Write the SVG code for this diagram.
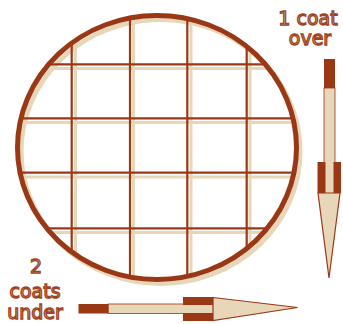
<svg xmlns="http://www.w3.org/2000/svg" width="343" height="324" viewBox="0 0 343 324">
<style>
.dk{fill:none;stroke:#9a3816;}
.bg{fill:none;stroke:#e7d6b8;}
.gd{stroke:#9a3816;stroke-width:2.2;}
.gb{stroke:#e7d6b8;stroke-width:3;}
.lbl{font-family:"DejaVu Sans",sans-serif;font-size:19px;fill:#ecd9c4;stroke:#a0421c;stroke-width:1.3;text-anchor:middle;}
.dkf{fill:#9a3816;}
.bgf{fill:#e7d6b8;}
.head{fill:#e7d6b8;stroke:#9a3816;stroke-width:1.2;stroke-linejoin:miter;}
</style>
<defs>
<clipPath id="inside"><ellipse cx="157" cy="147.5" rx="139" ry="132"/></clipPath>
<clipPath id="inside2"><ellipse cx="160.5" cy="151.5" rx="139" ry="132"/></clipPath>
</defs>
<g id="grid">
<g clip-path="url(#inside2)">
<line class="gb" x1="75.5" y1="0" x2="75.5" y2="324"/>
<line class="gb" x1="133.5" y1="0" x2="133.5" y2="324"/>
<line class="gb" x1="191" y1="0" x2="191" y2="324"/>
<line class="gb" x1="250" y1="0" x2="250" y2="324"/>
<line class="gb" x1="0" y1="68.5" x2="343" y2="68.5"/>
<line class="gb" x1="0" y1="122.5" x2="343" y2="122.5"/>
<line class="gb" x1="0" y1="177" x2="343" y2="177"/>
<line class="gb" x1="0" y1="232.5" x2="343" y2="232.5"/>
</g>
<ellipse class="bg" cx="160.5" cy="151.5" rx="139.5" ry="132" stroke-width="5"/>
<g clip-path="url(#inside)">
<line class="gd" x1="71.7" y1="0" x2="71.7" y2="324"/>
<line class="gd" x1="130" y1="0" x2="130" y2="324"/>
<line class="gd" x1="187.3" y1="0" x2="187.3" y2="324"/>
<line class="gd" x1="246.7" y1="0" x2="246.7" y2="324"/>
<line class="gd" x1="0" y1="64.3" x2="343" y2="64.3"/>
<line class="gd" x1="0" y1="118.3" x2="343" y2="118.3"/>
<line class="gd" x1="0" y1="172.7" x2="343" y2="172.7"/>
<line class="gd" x1="0" y1="228.3" x2="343" y2="228.3"/>
</g>
<ellipse class="dk" cx="157" cy="147.5" rx="139.5" ry="132" stroke-width="5"/>
</g>
<g id="connectors">
<g id="arrow-over">
<rect class="bgf" x="324" y="88" width="11" height="75" stroke="#9a3816" stroke-width="0.8"/>
<rect class="dkf" x="324" y="59" width="11" height="29"/>
<rect class="dkf" x="317.5" y="162" width="23.5" height="31"/>
<rect class="bgf" x="325.5" y="162" width="8" height="31"/>
<polygon class="head" points="318,193 340,193 329,278"/>
</g>
<g id="arrow-under">
<rect class="bgf" x="108" y="304" width="76" height="9.5" stroke="#9a3816" stroke-width="0.8"/>
<rect class="dkf" x="78.5" y="304" width="30" height="9.5"/>
<rect class="dkf" x="183" y="297" width="30" height="24"/>
<rect class="bgf" x="183" y="305" width="30" height="8"/>
<polygon class="head" points="213,297.5 297.5,307.5 213,320.5"/>
</g>
</g>
<g id="label-over">
<text class="lbl" x="308" y="25">1 coat</text>
<text class="lbl" x="310" y="45">over</text>
</g>
<g id="label-under">
<text class="lbl" x="36" y="273">2</text>
<text class="lbl" x="35" y="298">coats</text>
<text class="lbl" x="35" y="319">under</text>
</g>
</svg>
